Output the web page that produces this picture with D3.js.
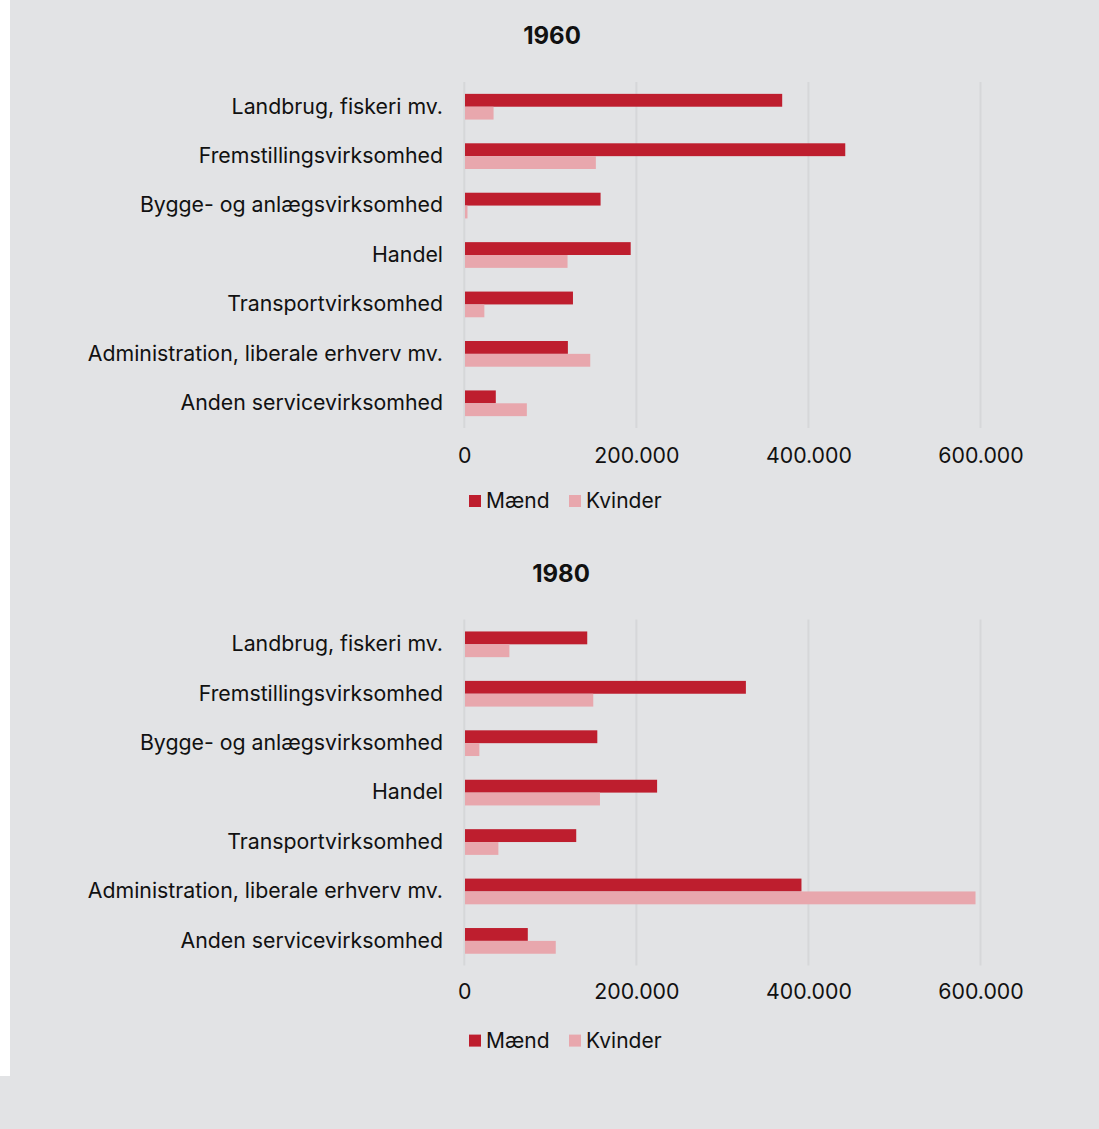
<!DOCTYPE html>
<html>
<head>
<meta charset="utf-8">
<script src="https://cdn.jsdelivr.net/npm/d3@7"></script>
<style>
  body { margin: 0; background: #fff; }
  text { font-family: Inter, "Noto Sans", sans-serif; fill: #111; }
</style>
</head>
<body>
<div id="chart"></div>
<script>
var categories = [
    "Landbrug, fiskeri mv.",
    "Fremstillingsvirksomhed",
    "Bygge- og anlægsvirksomhed",
    "Handel",
    "Transportvirksomhed",
    "Administration, liberale erhverv mv.",
    "Anden servicevirksomhed"
];
var series = ["Mænd", "Kvinder"];
var years = ["1960", "1980"];
var maend1960   = [369500, 442800, 158400, 193400, 126300, 120400, 36600];
var kvinder1960 = [34000, 152900, 3700, 120000, 23300, 146400, 72700];
var maend1980   = [142900, 327300, 154600, 224100, 130100, 391900, 73800];
var kvinder1980 = [52400, 149900, 17500, 157700, 39600, 594200, 106300];
var tickValues = [0, 200000, 400000, 600000];

var colors = {"Mænd": "#be1e2e", "Kvinder": "#e8a7ad"};

var W = 1099, H = 1129;
var svg = d3.select("#chart").append("svg")
    .attr("width", W).attr("height", H);

svg.append("rect").attr("width", W).attr("height", H).attr("fill", "#e2e3e5");
svg.append("rect").attr("x", 0).attr("y", 0).attr("width", 10).attr("height", 1076).attr("fill", "#fff");

var fmt = function(d) { return d3.format(",")(d).replace(/,/g, "."); };

function drawPanel(year, men, women, top, titleX, axisPad, legendY) {
    var plotH = 346;
    var g = svg.append("g").attr("transform", "translate(0," + top + ")");

    var x = d3.scaleLinear().domain([0, 600000]).range([464.3, 980.5]);
    var y = d3.scaleBand().domain(categories).range([0, plotH])
        .paddingInner(0.48).paddingOuter(0.24);
    var ySub = d3.scaleBand().domain(series).range([0, y.bandwidth()]);

    // title
    g.append("text")
        .attr("x", titleX).attr("y", -38)
        .attr("text-anchor", "middle")
        .style("font-size", "24px").style("font-weight", "bold")
        .text(year);

    // gridlines
    g.selectAll(".grid").data(tickValues).enter().append("line")
        .attr("x1", function(d) { return x(d); })
        .attr("x2", function(d) { return x(d); })
        .attr("y1", 0).attr("y2", plotH)
        .attr("stroke", "#d6d7d9").attr("stroke-width", 2);

    // x axis labels
    var ax = g.append("g").attr("transform", "translate(0," + plotH + ")")
        .call(d3.axisBottom(x).tickValues(tickValues).tickFormat(fmt).tickSize(0).tickPadding(axisPad));
    ax.select(".domain").remove();
    ax.selectAll("text").attr("dy", 0).style("font-size", "21.3px").style("font-family", "Inter, sans-serif").attr("fill", "#111");

    // y axis labels
    var ay = g.append("g").attr("transform", "translate(464,0)")
        .call(d3.axisLeft(y).tickSize(0).tickPadding(21));
    ay.select(".domain").remove();
    ay.selectAll("text").style("font-size", "21.3px").style("font-family", "Inter, sans-serif").attr("fill", "#111");

    var rows = categories.map(function(c, i) {
        return {cat: c, vals: [{s: "Mænd", v: men[i]}, {s: "Kvinder", v: women[i]}]};
    });

    g.selectAll(".row").data(rows).enter().append("g")
        .attr("transform", function(d) { return "translate(0," + y(d.cat) + ")"; })
        .selectAll("rect").data(function(d) { return d.vals; }).enter().append("rect")
        .attr("x", x(0) + 0.7)
        .attr("y", function(d) { return ySub(d.s); })
        .attr("height", ySub.bandwidth())
        .attr("width", function(d) { return x(d.v) - x(0) - 0.7; })
        .attr("fill", function(d) { return colors[d.s]; });

    // legend
    var legX = [469, 569];
    var leg = g.selectAll(".leg").data(series).enter().append("g")
        .attr("transform", function(d, i) { return "translate(" + legX[i] + "," + (plotH + legendY) + ")"; });
    leg.append("rect").attr("width", 12).attr("height", 12)
        .attr("fill", function(d) { return colors[d]; });
    leg.append("text").attr("x", 17).attr("y", 6).attr("dy", "0.35em")
        .style("font-size", "21px").text(function(d) { return d; });
}

drawPanel(years[0], maend1960, kvinder1960, 82, 552, 35, 67);
drawPanel(years[1], maend1980, kvinder1980, 619.6, 561, 33, 69);
</script>
</body>
</html>
